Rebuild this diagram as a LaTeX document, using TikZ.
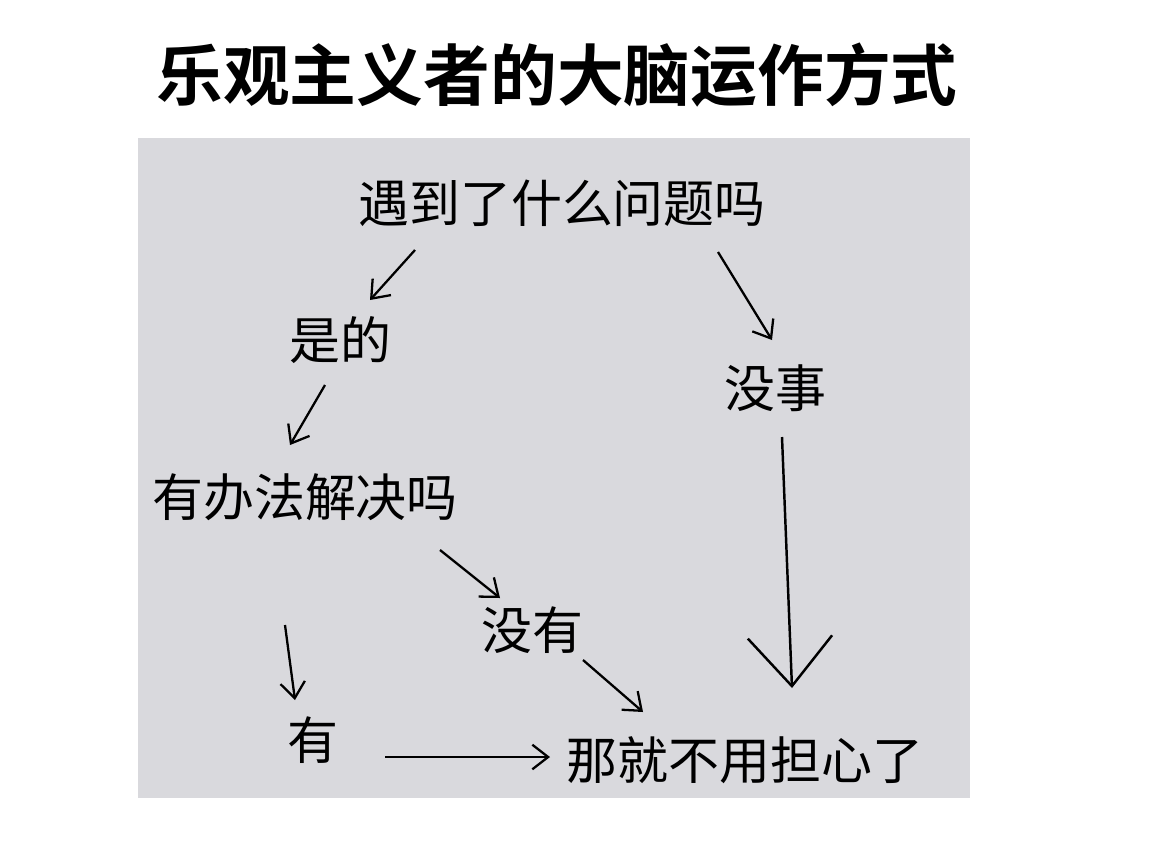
\documentclass[tikz,border=0pt]{standalone}
\usepackage{fontspec}
\setmainfont{Noto Sans CJK SC}
\newfontfamily\cjkbold{Noto Sans CJK SC Bold}
\usetikzlibrary{arrows.meta,positioning}
\definecolor{panelgray}{HTML}{D9D9DD}
\begin{document}
\begin{tikzpicture}
[x=0.02cm, y=-0.02cm,
label/.style={font=\fontsize{29}{32}\selectfont, inner sep=0pt},
arrow/.style={line width=1.3pt, -{Straight Barb[length=9pt, width=14pt]}},
bigarrow/.style={line width=1.4pt, -{Straight Barb[length=28pt, width=48pt]}},]
\useasboundingbox (0,0) rectangle (1170,843);
\fill[panelgray] (138,138) rectangle (970,798);
\node (title) [font=\cjkbold\fontsize{38}{42}\selectfont, inner sep=0pt] at (557,75) {乐观主义者的大脑运作方式};

\node (problem) [label] at (562,203) {遇到了什么问题吗};
\node (yes) [label] at (340,340) {是的};
\node (fine) [label] at (775,388) {没事};
\node (solvable) [label] at (305,497) {有办法解决吗};
\node (no) [label] at (532,630) {没有};
\node (have) [label] at (313,740) {有};
\node (noworry) [label] at (745,760) {那就不用担心了};

\coordinate (a1) at (415,250); \coordinate (b1) at (370,300);
\coordinate (a2) at (325,385); \coordinate (b2) at (290,445);
\coordinate (a3) at (718,252); \coordinate (b3) at (772,340);
\coordinate (a4) at (440,550); \coordinate (b4) at (500,598);
\coordinate (a5) at (583,660); \coordinate (b5) at (643,712);
\coordinate (a6) at (285,625); \coordinate (b6) at (295,700);
\coordinate (a7) at (385,757); \coordinate (b7) at (550,757);
\coordinate (a8) at (782,437); \coordinate (b8) at (792,688);

\draw [arrow] (a1) -- (b1);
\draw [arrow] (a2) -- (b2);
\draw [arrow] (a3) -- (b3);
\draw [arrow] (a4) -- (b4);
\draw [arrow] (a5) -- (b5);
\draw [arrow] (a6) -- (b6);
\draw [arrow] (a7) -- (b7);
\draw [bigarrow] (a8) -- (b8);
\end{tikzpicture}
\end{document}
